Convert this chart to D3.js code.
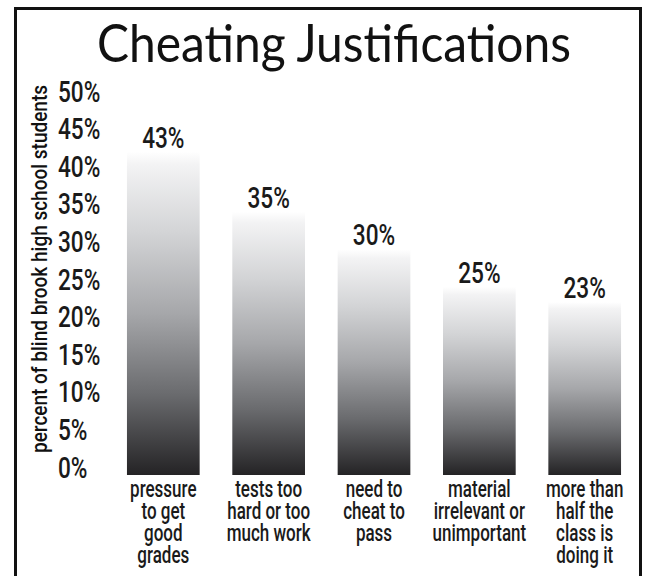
<!DOCTYPE html>
<html>
<head>
<meta charset="utf-8">
<script src="https://cdn.jsdelivr.net/npm/d3@7"></script>
<style>
  html, body { margin: 0; padding: 0; background: #fff; }
  svg { display: block; }
</style>
</head>
<body>
<svg id="chart" width="653" height="576"></svg>
<script>
// ---- data ----
const categories = [
  ["pressure", "to get", "good", "grades"],
  ["tests too", "hard or too", "much work"],
  ["need to", "cheat to", "pass"],
  ["material", "irrelevant or", "unimportant"],
  ["more than", "half the", "class is", "doing it"]
];
const values = [43, 35, 30, 25, 23];
const valueLabels = ["43%", "35%", "30%", "25%", "23%"];
const tickValues = [0, 5, 10, 15, 20, 25, 30, 35, 40, 45, 50];
const tickLabels = ["0%", "5%", "10%", "15%", "20%", "25%", "30%", "35%", "40%", "45%", "50%"];
const title = "Cheating Justifications";
const yTitle = "percent of blind brook high school students";

// ---- layout ----
const svg = d3.select("#chart");
const condFont = "Roboto, 'Liberation Sans', sans-serif";

const x = d3.scaleBand()
  .domain(d3.range(values.length))
  .range([108, 640])
  .paddingInner(0.31)
  .paddingOuter(0.18);
const y = d3.scaleLinear().domain([0, 50]).range([475, 99]);

// gradient
const defs = svg.append("defs");
const grad = defs.append("linearGradient")
  .attr("id", "barGrad")
  .attr("x1", 0).attr("y1", 0).attr("x2", 0).attr("y2", 1);
[["0%", "#ffffff"], ["4%", "#f3f3f4"], ["25%", "#d3d4d6"], ["50%", "#a6a7aa"], ["75%", "#6a6b6e"], ["100%", "#242325"]]
  .forEach(([o, c]) => grad.append("stop").attr("offset", o).attr("stop-color", c));

// border
svg.append("rect")
  .attr("x", 15.5).attr("y", 8.5)
  .attr("width", 625).attr("height", 620)
  .attr("fill", "none").attr("stroke", "#111").attr("stroke-width", 3);

// title
svg.append("text")
  .attr("x", 334).attr("y", 62)
  .attr("text-anchor", "middle")
  .attr("font-family", "Lato, 'Open Sans', sans-serif")
  .attr("font-size", 53)
  .attr("fill", "#111")
  .attr("textLength", 474)
  .attr("lengthAdjust", "spacingAndGlyphs")
  .text(title);

// y axis title
svg.append("text")
  .attr("transform", "translate(47,269) rotate(-90)")
  .attr("text-anchor", "middle")
  .attr("font-family", condFont)
  .attr("font-weight", 500)
  .attr("font-size", 22)
  .attr("fill", "#111")
  .attr("textLength", 368)
  .attr("lengthAdjust", "spacingAndGlyphs")
  .text(yTitle);

// y tick labels (no axis line in the original)
const yAxis = d3.axisLeft(y).tickValues(tickValues).tickFormat((d, i) => tickLabels[i]).tickSize(0);
const ag = svg.append("g").call(yAxis);
ag.select(".domain").remove();
ag.selectAll(".tick text")
  .attr("x", 0).attr("dy", null).attr("y", 0)
  .attr("text-anchor", "start")
  .attr("font-family", condFont)
  .attr("font-weight", 500)
  .attr("font-size", 29)
  .attr("fill", "#1a1a1a")
  .attr("transform", "translate(58,2) scale(0.78,1)");

// bars
svg.append("g").selectAll("rect")
  .data(values)
  .join("rect")
  .attr("x", (d, i) => x(i))
  .attr("y", d => y(d))
  .attr("width", x.bandwidth())
  .attr("height", d => y(0) - y(d))
  .attr("fill", "url(#barGrad)");

// value labels
svg.append("g").selectAll("text")
  .data(values)
  .join("text")
  .attr("transform", (d, i) => "translate(" + (x(i) + x.bandwidth() / 2) + "," + (y(d) - 4) + ") scale(0.78,1)")
  .attr("text-anchor", "middle")
  .attr("font-family", condFont)
  .attr("font-weight", 500)
  .attr("font-size", 29)
  .attr("fill", "#1a1a1a")
  .text((d, i) => valueLabels[i]);

// category labels
const cg = svg.append("g").selectAll("g")
  .data(categories)
  .join("g")
  .attr("transform", (d, i) => "translate(" + (x(i) + x.bandwidth() / 2) + ",0)");
cg.selectAll("text")
  .data(d => d)
  .join("text")
  .attr("transform", (d, j) => "translate(0," + (497 + j * 22) + ") scale(0.74,1)")
  .attr("text-anchor", "middle")
  .attr("font-family", condFont)
  .attr("font-weight", 500)
  .attr("font-size", 23)
  .attr("fill", "#1a1a1a")
  .text(d => d);
</script>
</body>
</html>
